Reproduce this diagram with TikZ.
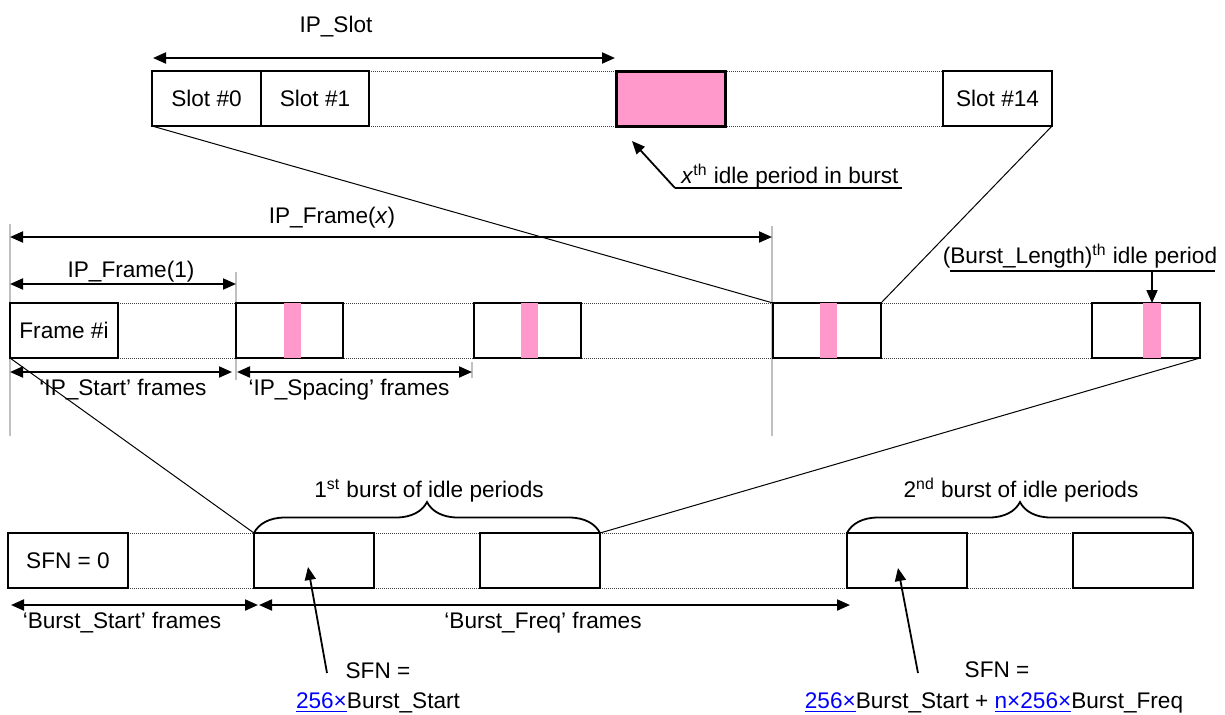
\documentclass[tikz,border=0pt]{standalone}
\usepackage{fontspec}
\setmainfont{Liberation Sans}
\usetikzlibrary{arrows.meta,decorations.pathreplacing}
\definecolor{idlepink}{HTML}{FF99CC}
\definecolor{linkblue}{HTML}{0000FF}
\definecolor{guidegray}{HTML}{C0C0C0}
\newcommand{\lnk}[1]{\textcolor{linkblue}{\underline{#1}}}
\begin{document}
\begin{tikzpicture}[x=0.5pt,y=-0.5pt,
  font=\fontsize{11.3}{13}\selectfont,
  box/.style={draw, line width=0.9pt, inner sep=0pt, outer sep=0pt, minimum height=27.5pt, anchor=north west},
  idle/.style={fill=idlepink, draw=none, inner sep=0pt, outer sep=0pt, minimum height=27.5pt, anchor=north west},
  dimarrow/.style={line width=1pt, {Triangle[length=6.5pt,width=5.5pt]}-{Triangle[length=6.5pt,width=5.5pt]}},
  ptr/.style={line width=0.9pt, -{Triangle[length=6.5pt,width=5.5pt]}},
  zoomline/.style={line width=0.5pt},
  guide/.style={draw=guidegray, line width=1pt},
  dotline/.style={line width=0.5pt, dash pattern=on 0.5pt off 0.5pt, black!75},
  lbl/.style={anchor=base, inner sep=0pt},
  burstbrace/.style={decorate, decoration={brace, amplitude=15.5pt, aspect=0.5}, line width=0.9pt}
]
\useasboundingbox (0,0) rectangle (1225,714);

% ---------- guide lines ----------
\draw[guide] (10,224) -- (10,436);
\draw[guide] (772,226) -- (772,436);
\draw[guide] (236,272) -- (236,380);
\draw[guide] (472,362) -- (472,378);

% ---------- dotted rails ----------
\draw[dotline] (323,71) -- (1000,71);
\draw[dotline] (323,126.5) -- (1000,126.5);
\draw[dotline] (10,303) -- (1130,303);
\draw[dotline] (10,358) -- (1130,358);
\draw[dotline] (100,533) -- (1190,533);
\draw[dotline] (100,588) -- (1190,588);

% ---------- top row: slots ----------
\node[box, minimum width=54.5pt] (s0) at (152,71) {Slot \#0};
\node[box, minimum width=54pt] (s1) at (261,71) {Slot \#1};
\node[box, minimum width=54.5pt, fill=idlepink, line width=1.5pt] (sx) at (616,71) {};
\node[box, minimum width=54.5pt] (s14) at (943,71) {Slot \#14};

\node[lbl] (ipslot) at (336,32) {IP\_Slot};
\coordinate (ipslotL) at (153,58);
\coordinate (ipslotR) at (615,58);
\draw[dimarrow] (ipslotL) -- (ipslotR);

\node[lbl] (xth) at (790,183) {\textit{x}\textsuperscript{th} idle period in burst};
\coordinate (xthR) at (902,188);
\coordinate (xthL) at (675,188);
\draw[line width=0.9pt] (xthR) -- (xthL);
\draw[ptr] (xthL) -- ([shift={(16,15)}]sx.south west);

% ---------- middle row: frames ----------
\node[box, minimum width=54pt] (m1) at (10,303) {Frame \#i};
\node[box, minimum width=53.5pt] (m2) at (236,303) {};
\node[box, minimum width=53.5pt] (m3) at (474,303) {};
\node[box, minimum width=54pt] (m4) at (773,303) {};
\node[box, minimum width=54pt] (m5) at (1092,303) {};
\node[idle, minimum width=8.5pt] (p2) at (284,303) {};
\node[idle, minimum width=8.5pt] (p3) at (521,303) {};
\node[idle, minimum width=8.5pt] (p4) at (820,303) {};
\node[idle, minimum width=9pt] (p5) at (1143,303) {};

\draw[zoomline] (s0.south west) -- (m4.north west);
\draw[zoomline] (s14.south east) -- (m4.north east);

\node[lbl] (ipfx) at (332,223) {IP\_Frame(\textit{x})};
\coordinate (ipfxL) at (10,237);
\coordinate (ipfxR) at (772,237);
\draw[dimarrow] (ipfxL) -- (ipfxR);

\node[lbl] (ipf1) at (131,277) {IP\_Frame(1)};
\coordinate (ipf1L) at (10,284);
\coordinate (ipf1R) at (236,284);
\draw[dimarrow] (ipf1L) -- (ipf1R);

\coordinate (ipsL) at (10,372);
\coordinate (ipsR) at (232,372);
\draw[dimarrow] (ipsL) -- (ipsR);
\node[lbl] (ipstart) at (123,395) {‘IP\_Start’ frames};

\coordinate (ipspL) at (237,372);
\coordinate (ipspR) at (472,372);
\draw[dimarrow] (ipspL) -- (ipspR);
\node[lbl] (ipspacing) at (349,395) {‘IP\_Spacing’ frames};

\node[lbl] (blen) at (1080,263) {(Burst\_Length)\textsuperscript{th} idle period};
\coordinate (blenL) at (950,271);
\coordinate (blenR) at (1215,271);
\coordinate (blenA) at (1152,271);
\draw[line width=0.9pt] (blenL) -- (blenR);
\draw[ptr] (blenA) -- (p5.north);

% ---------- bottom row: bursts ----------
\node[box, minimum width=60pt] (b1) at (8,533) {SFN = 0};
\node[box, minimum width=60pt] (b2) at (254,533) {};
\node[box, minimum width=60pt] (b3) at (480,533) {};
\node[box, minimum width=60pt] (b4) at (847,533) {};
\node[box, minimum width=60pt] (b5) at (1073,533) {};

\draw[zoomline] (m1.south west) -- (b2.north west);
\draw[zoomline] (m5.south east) -- (b3.north east);

\draw[burstbrace] (b2.north west) -- (b3.north east);
\draw[burstbrace] (b4.north west) -- (b5.north east);
\node[lbl] (burst1) at (429,497) {1\textsuperscript{st} burst of idle periods};
\node[lbl] (burst2) at (1021,497) {2\textsuperscript{nd} burst of idle periods};

\coordinate (bsL) at (11,605);
\coordinate (bsR) at (258,605);
\draw[dimarrow] (bsL) -- (bsR);
\node[lbl] (bstart) at (122,628) {‘Burst\_Start’ frames};

\coordinate (bfL) at (259,605);
\coordinate (bfR) at (850,605);
\draw[dimarrow] (bfL) -- (bfR);
\node[lbl] (bfreq) at (543,628) {‘Burst\_Freq’ frames};

\node[lbl] (sfn1a) at (378,678) {SFN =};
\node[lbl] (sfn1b) at (378,708) {\lnk{256×}Burst\_Start};
\coordinate (a1s) at (327,673);
\draw[ptr] (a1s) -- ([shift={(54,34)}]b2.north west);

\node[lbl] (sfn2a) at (997,677) {SFN =};
\node[lbl] (sfn2b) at (994,708) {\lnk{256×}Burst\_Start + \lnk{n×256×}Burst\_Freq};
\coordinate (a2s) at (918,673);
\draw[ptr] (a2s) -- ([shift={(51,35)}]b4.north west);
\end{tikzpicture}
\end{document}
